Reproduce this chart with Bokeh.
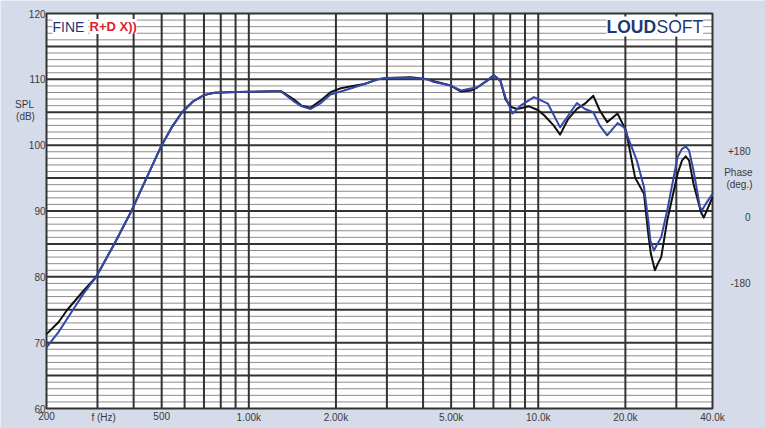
import math
from bokeh.plotting import figure
from bokeh.models import Range1d, Label
from bokeh.core.properties import value
from bokeh.embed import file_html
from bokeh.resources import INLINE

# ---------------- data ----------------
black_freq = [200, 220, 236, 270, 297, 343, 393, 443, 500, 545, 588, 640, 700, 760, 850, 1000,
              1200, 1290, 1426, 1524, 1636, 1774, 1915, 2080, 2260, 2510, 2790, 3000, 3620, 4140,
              4360, 4980, 5410, 5850, 6170, 6660, 7020, 7400, 7700, 8050, 8470, 9300, 10000,
              10500, 11300, 11900, 12700, 13600, 14500, 15500, 16300, 17300, 18800, 20100,
              21600, 23200, 24000, 24500, 25300, 25900, 26600, 27900, 30300, 31400, 32300, 33200,
              34400, 36500, 37300, 38000, 40000]
black_spl = [71.3, 73.1, 75.0, 78.0, 80.0, 85.0, 90.0, 95.0, 100.0, 102.9, 105.0, 106.6, 107.6, 107.95, 108.05, 108.1,
             108.2, 108.2, 107.0, 106.0, 105.7, 106.8, 108.05, 108.65, 108.95, 109.3, 110.0, 110.2, 110.3, 110.0,
             109.7, 109.05, 108.15, 108.3, 108.8, 109.8, 110.6, 109.8, 107.0, 105.8, 105.5, 105.9, 105.3,
             104.5, 103.0, 101.6, 104.0, 105.5, 106.3, 107.5, 105.3, 103.5, 104.8, 102.2,
             95.1, 92.6, 86.5, 83.5, 81.0, 82.0, 83.0, 88.55, 95.65, 97.7, 98.3, 97.7,
             94.1, 89.8, 89.0, 89.8, 92.1]

blue_freq = [200, 220, 247, 270, 297, 343, 393, 443, 500, 545, 588, 640, 700, 760, 850, 1000,
             1200, 1290, 1426, 1524, 1636, 1774, 1915, 2080, 2260, 2510, 2790, 3000, 3620, 4140,
             4360, 4980, 5410, 5850, 6170, 6660, 7020, 7400, 7700, 8150, 8690, 9660, 10800,
             11900, 12700, 13600, 14500, 15500, 16300, 17300, 18800, 19800, 21900, 23200,
             24000, 24400, 25100, 25800, 26600, 27900, 30300, 31400, 32300, 33200, 34400,
             36200, 36800, 37800, 40000]
blue_spl = [69.3, 71.6, 75.0, 77.6, 80.0, 85.0, 90.0, 95.0, 100.0, 102.9, 105.0, 106.6, 107.6, 107.95, 108.05, 108.1,
            108.2, 108.2, 106.7, 105.9, 105.5, 106.4, 107.7, 108.15, 108.65, 109.3, 110.0, 110.2, 110.2, 110.0,
            109.6, 109.05, 108.3, 108.6, 108.8, 109.8, 110.65, 109.8, 107.3, 104.8, 106.0, 107.3, 106.3,
            102.7, 104.5, 106.4, 105.5, 105.0, 103.0, 101.5, 103.35, 102.7, 97.7, 93.6,
            88.55, 85.5, 84.0, 85.0, 86.0, 90.1, 98.2, 99.45, 99.8, 99.2, 96.15,
            90.6, 90.1, 91.0, 92.6]

x_ticks = [200, 315, 500, 1000, 2000, 5000, 10000, 20000, 40000]
x_tick_labels = ["200", "f (Hz)", "500", "1.00k", "2.00k", "5.00k", "10.0k", "20.0k", "40.0k"]
y_ticks = [60, 70, 80, 90, 100, 110, 120]
y_tick_labels = ["60", "70", "80", "90", "100", "110", "120"]
phase_labels = ["+180", "0", "-180"]

vgrid_freqs = [300, 400, 500, 600, 700, 800, 900, 1000, 2000, 3000, 4000, 5000, 6000,
               7000, 8000, 9000, 10000, 20000, 30000]
major_db = [65, 70, 75, 80, 85, 90, 95, 100, 105, 110, 115]
minor_db = [v for v in range(61, 120) if v % 5 != 0]

F_MIN, F_MAX = 200, 40000
DB_MIN, DB_MAX = 60, 120

# ---------------- layout / styling ----------------
BG = "#d6dbea"
NAVY = "#1f3673"
RED = "#e3202b"
TXT = "#3a3a3a"
FONT = "Liberation Sans"
W, H = 765, 428
PL, PR, PT, PB = 46, 712, 13, 408   # plot-area edges on the page (px)

ppd = (PR - PL) / math.log10(F_MAX / F_MIN)     # px per decade
ppdb = (PB - PT) / (DB_MAX - DB_MIN)            # px per dB
x_range = Range1d(F_MIN * 10 ** (-PL / ppd), F_MIN * 10 ** ((W - PL) / ppd))
y_range = Range1d(DB_MIN - (H - PB) / ppdb, DB_MAX + PT / ppdb)

p = figure(width=W, height=H, x_axis_type="log", x_range=x_range, y_range=y_range,
           output_backend="svg", toolbar_location=None, min_border=0)
p.axis.visible = False
p.grid.visible = False
p.outline_line_color = None
p.background_fill_color = BG
p.border_fill_color = BG

# plot area
p.quad(left=[F_MIN], right=[F_MAX], bottom=[DB_MIN], top=[DB_MAX],
       fill_color="white", line_color=None)
# grid
p.segment(x0=F_MIN, x1=F_MAX, y0=minor_db, y1=minor_db, line_color="#8c8c8c", line_width=1)
p.segment(x0=F_MIN, x1=F_MAX, y0=major_db, y1=major_db, line_color="#333333", line_width=2)
p.segment(x0=vgrid_freqs, x1=vgrid_freqs, y0=DB_MIN, y1=DB_MAX, line_color="#333333", line_width=2)
p.quad(left=[F_MIN], right=[F_MAX], bottom=[DB_MIN], top=[DB_MAX],
       fill_color=None, line_color="#333333", line_width=2)

# curves
p.line(black_freq, black_spl, line_color="#111111", line_width=2, line_join="round")
p.line(blue_freq, blue_spl, line_color="#3448a8", line_width=2, line_join="round")

# tick labels
p.text(x=[F_MIN] * len(y_ticks), y=y_ticks, text=y_tick_labels, x_offset=-1,
       text_align="right", text_baseline="middle", text_font=value(FONT),
       text_font_size="10px", text_color=TXT)
p.text(x=x_ticks, y=[DB_MIN] * len(x_ticks), text=x_tick_labels, y_offset=3,
       text_align="center", text_baseline="top", text_font=value(FONT),
       text_font_size="10px", text_color=TXT)


def lab(text, x, y, align="center", size="10px", color=TXT, style="normal", bg=None):
    # x, y are page pixels (top-left origin); screen units count from the frame's bottom-left
    l = Label(x=x, y=H - y, x_units="screen", y_units="screen", text=text,
              text_align=align, text_baseline="middle",
              text_font=FONT, text_font_size=size, text_color=color, text_font_style=style)
    if bg:
        l.background_fill_color = bg
    p.add_layout(l)


lab("SPL", 24, 104)
lab("(dB)", 25, 116)
lab("Phase", 752, 172, align="right")
lab("(deg.)", 752, 184, align="right")
for t, yy in zip(phase_labels, [150, 216, 282]):
    lab(t, 750, yy, align="right")

lab("FINE ", 52, 26, align="left", size="14px", color=NAVY, bg="white")
lab("R+D X))", 89, 26, align="left", size="13px", color=RED, style="bold", bg="white")
lab("LOUD", 606, 26, align="left", size="17.5px", color=NAVY, style="bold", bg="white")
lab("SOFT", 656, 26, align="left", size="17.5px", color=NAVY, bg="white")

open("out.html", "w").write(file_html(p, INLINE))
